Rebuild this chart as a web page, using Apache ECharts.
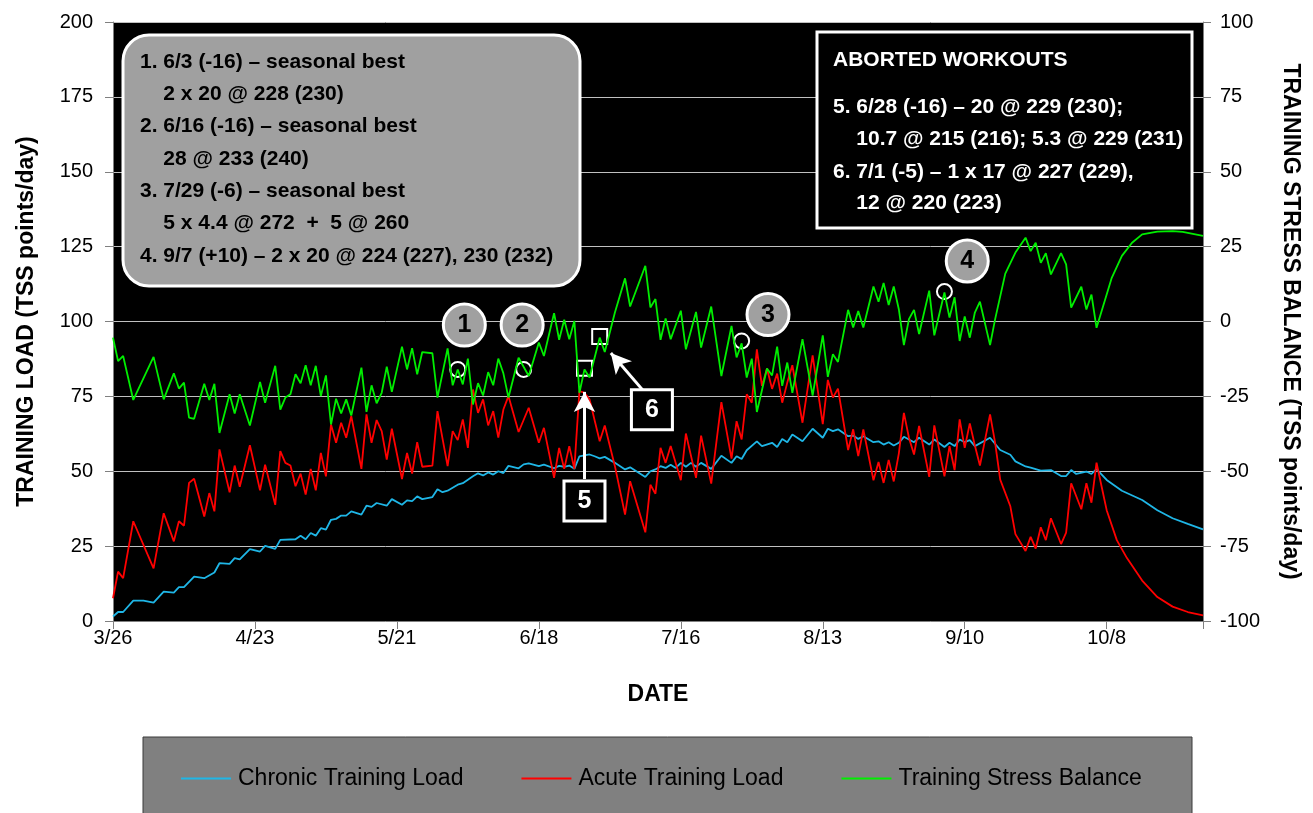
<!DOCTYPE html>
<html>
<head>
<meta charset="utf-8">
<script src="https://cdn.jsdelivr.net/npm/echarts@6/dist/echarts.min.js"></script>
<style>
html,body{margin:0;padding:0;background:#fff;}
#chart{width:1313px;height:813px;}
</style>
</head>
<body>
<div id="chart"></div>
<script>
// x = days since 3/26
const dateLabels = ['3/26','4/23','5/21','6/18','7/16','8/13','9/10','10/8'];
const seriesNames = ['Chronic Training Load','Acute Training Load','Training Stress Balance'];

const ctl = [[0,1.5],[1,3],[2,3],[4,6.8],[6,6.8],[8,6.1],[10,9.8],[12,9.5],[13,11.3],[14,11.3],[16,14.8],[18,14.3],[20,16.2],[21,19.3],[23,19.1],[24,21],[25,20.6],[27,24],[29,23.2],[30,25.1],[32,24.1],[33,27.1],[36,27.3],[37,28.5],[38,27.3],[39,29.4],[40,28.5],[41,31],[42,30.5],[43,33.8],[44,34.1],[45,35.2],[46,35.2],[47,36.6],[49,35.5],[50,38.5],[51,38.1],[52,39.4],[54,38.5],[55,40.7],[57,38.8],[58,40.3],[59,40],[60,41.6],[61,40.7],[63,41.4],[64,44],[65,43],[66,43.5],[67,44.5],[68,45.5],[69,46],[71,48.3],[72,49.3],[73,48.6],[74,49.6],[75,48.9],[76,50],[77,49.4],[78,51.8],[80,51],[81,52.3],[82,52.6],[84,51.7],[85,52.2],[87,51],[88,51.8],[89,51.5],[90,51.9],[91,50.8],[92,55],[94,55.6],[95,55],[96,54.3],[97,54.8],[99,52.8],[101,50.6],[102,51.3],[105,48.1],[106,50],[107,50.6],[108,51.7],[109,51.1],[110,52.2],[111,51.1],[112,52.8],[113,51.5],[114,52.8],[115,51.5],[116,52.8],[118,50.8],[120,55.2],[122,52.8],[123,55],[124,54.1],[125,57],[127,60],[128,58.4],[130,59.5],[131,58.1],[132,60.8],[133,59.7],[134,62.3],[136,60],[138,64.2],[140,61.2],[141,64.2],[142,63.4],[143,64],[145,61.7],[146,61.9],[147,60.8],[148,61.7],[150,59.7],[151,60],[152,58.9],[153,59.7],[154,58.6],[155,59.5],[156,61.5],[158,59.7],[159,61.2],[161,58.9],[162,60.6],[164,58.1],[165,59.5],[166,58.4],[167,60.6],[168,59.7],[169,60.4],[170,58.4],[173,61.2],[175,57.1],[177,55.5],[178,53.3],[180,51.6],[181,51.2],[183,50.2],[185,50.4],[187,48.4],[188,48.4],[189,50.4],[190,49.1],[192,49.9],[193,49.1],[194,50.7],[196,47.1],[199,43.5],[203,40.4],[206,37],[209,34.3],[212,32.4],[215,30.6]];

const atl = [[0,7.6],[1,16.5],[2,14.3],[4,33.3],[8,17.6],[10,36],[12,26.6],[13,33.3],[14,31.8],[15,46.1],[16,47.5],[18,34.9],[19,42.7],[20,36.6],[21,57.3],[23,43],[24,51.9],[25,44.8],[27,58.7],[29,43.6],[30,52.2],[32,38.8],[33,56.7],[34,52.8],[35,51.9],[36,45],[37,49.2],[38,42.2],[39,50.8],[40,43.6],[41,56.1],[42,48.3],[43,65.6],[44,59.5],[45,66.2],[46,61.2],[47,68.4],[49,50.8],[50,69],[51,59.5],[52,67.1],[53,63.4],[54,53.9],[55,64.2],[57,47.4],[58,56.1],[59,49.2],[60,59.7],[61,51.5],[63,51.9],[64,70.1],[66,51.7],[67,63.4],[68,60.4],[69,67.3],[70,57.8],[71,77.3],[72,69.5],[73,74],[74,65.3],[75,70.1],[76,61.2],[77,70.6],[78,75.1],[80,63.1],[82,71.2],[84,59.5],[85,64.5],[87,47.8],[88,57.8],[89,50.8],[90,58.4],[91,50.8],[92,76.8],[93,76.2],[94,74],[96,60],[97,65.3],[99,51.7],[101,35.5],[102,46.7],[105,29.6],[106,45.5],[107,42.5],[108,57.8],[109,52.8],[110,58.4],[112,47],[113,62.6],[115,47.8],[116,61.9],[118,45.9],[120,73.1],[122,54.2],[123,66.7],[124,60.6],[125,75.7],[126,72.9],[127,90.7],[128,78.5],[129,84.3],[130,77.5],[131,82.6],[132,72.9],[133,79.6],[134,85.4],[136,66.2],[138,88.7],[140,65.7],[141,80.5],[142,74.6],[143,77.6],[145,57.1],[146,64],[147,55.1],[148,64],[150,47],[151,53.1],[152,46.1],[153,53.8],[154,46.6],[155,55.9],[156,69.5],[157,61.2],[158,55.6],[159,65.1],[161,48.1],[162,65.3],[164,48.3],[165,58.4],[166,50.4],[167,67.3],[168,57.8],[169,66],[170,58.6],[171,51.9],[173,69],[174,59.5],[175,47.2],[177,38.3],[178,29],[180,23.4],[181,28.1],[182,24.2],[183,31.3],[184,27],[185,34.3],[187,25.7],[188,29.5],[189,46],[191,37.3],[192,46],[193,39.5],[194,52.9],[195,44.9],[196,37],[198,27],[200,21],[203,13.5],[206,8],[209,4.8],[212,3],[215,1.9]];

const tsb = [[0,-5.4],[1,-13.2],[2,-11.5],[4,-26.2],[8,-11.8],[10,-26],[12,-17.3],[13,-22.4],[14,-20.4],[15,-32.1],[16,-32.5],[18,-20.8],[19,-26.2],[20,-20.8],[21,-37.2],[23,-24.3],[24,-30.7],[25,-24.3],[27,-34.7],[29,-20.2],[30,-27.1],[32,-14.8],[33,-29.4],[34,-25.4],[35,-24.3],[36,-17.6],[37,-20.6],[38,-14.6],[39,-21.3],[40,-14.8],[41,-24.9],[42,-18],[43,-34.4],[44,-25.8],[45,-30.7],[46,-26],[47,-31.4],[49,-15.4],[50,-30.2],[51,-21.3],[52,-27.3],[53,-23.8],[54,-15.1],[55,-23.5],[57,-8.4],[58,-16],[59,-8.9],[60,-17.6],[61,-10.2],[63,-10.6],[64,-25.4],[66,-9],[67,-21.3],[68,-16],[69,-21],[70,-12.4],[71,-27.7],[72,-20.6],[73,-24.7],[74,-16.9],[75,-21.3],[76,-12.4],[77,-17.3],[78,-25.4],[80,-12.1],[82,-18.2],[84,-7],[85,-11.5],[87,2.8],[88,-6.1],[89,0.6],[90,-5.9],[91,0.2],[92,-23.8],[93,-16],[94,-18.7],[96,-5.4],[97,-10.2],[99,3],[101,14.4],[102,5],[105,18.6],[106,4.7],[107,7.5],[108,-6.1],[109,1],[110,-5.9],[112,3.6],[113,-9.3],[115,3.2],[116,-8.7],[118,5],[120,-18.2],[122,-1.5],[123,-12],[124,-7.3],[125,-18.7],[126,-12.4],[127,-30.2],[129,-15.7],[130,-18],[131,-8.4],[132,-21.5],[133,-13.7],[134,-23.8],[136,-5.9],[138,-24.7],[140,-4.6],[141,-18.5],[142,-10.9],[143,-13.5],[145,3.9],[146,-2],[147,3.5],[148,-2],[150,11.7],[151,6.6],[152,12.9],[153,5.5],[154,11.7],[155,4.1],[156,-7.9],[157,0.8],[158,3.9],[159,-4.2],[161,10.3],[162,-4.6],[164,9.7],[165,1.3],[166,8.1],[167,-6.5],[168,1.7],[169,-5.4],[170,3],[171,6.6],[173,-7.9],[174,0.8],[176,16],[178,23],[180,28],[181,23.5],[182,26.3],[183,19.6],[184,22.8],[185,15.7],[187,22.8],[188,19.1],[189,4.6],[191,11.6],[192,4],[193,9],[194,-2.1],[196,9],[197,14.6],[199,21.9],[201,26.3],[203,29.1],[206,30],[209,30.2],[211,29.9],[215,28.6]];

// seasonal bests: workout point on TSB line and numbered label position (day, TSB)
const bests = [
  {n:'1', day:68, tsb:-16, labelDay:69.3, labelTsb:-1.2},
  {n:'2', day:81, tsb:-16, labelDay:80.7, labelTsb:-1.2},
  {n:'3', day:124, tsb:-6.5, labelDay:129.2, labelTsb:2.3},
  {n:'4', day:164, tsb:10, labelDay:168.5, labelTsb:20.2}
];
// aborted workouts: point on TSB line, callout box, arrow start/end
const aborted = [
  {n:'5', day:93, tsb:-15.6, boxDay:93, boxTsb:-59.9, arrowFrom:[93,-52.6], arrowTo:[93,-23.5]},
  {n:'6', day:96, tsb:-5, boxDay:106.3, boxTsb:-29.5, arrowFrom:[104.8,-23.5], arrowTo:[98.2,-10.5]}
];

const noteLines = [
  '1. 6/3 (-16) \u2013 seasonal best',
  '    2 x 20 @ 228 (230)',
  '2. 6/16 (-16) \u2013 seasonal best',
  '    28 @ 233 (240)',
  '3. 7/29 (-6) \u2013 seasonal best',
  '    5 x 4.4 @ 272  +  5 @ 260',
  '4. 9/7 (+10) \u2013 2 x 20 @ 224 (227), 230 (232)'
];
const abortedLines = [
  'ABORTED WORKOUTS',
  '5. 6/28 (-16) \u2013 20 @ 229 (230);',
  '    10.7 @ 215 (216); 5.3 @ 229 (231)',
  '6. 7/1 (-5) \u2013 1 x 17 @ 227 (229),',
  '    12 @ 220 (223)'
];

const FONT = '"Liberation Sans", Arial, Helvetica, sans-serif';
const colors = ['#1fb6e6', '#ff0000', '#00ee00'];

const chart = echarts.init(document.getElementById('chart'), null, {renderer:'canvas'});

const markPointData = [];
bests.forEach(b => {
  markPointData.push({coord:[b.day, b.tsb], symbol:'circle', symbolSize:15,
    itemStyle:{color:'rgba(0,0,0,0)', borderColor:'#ffffff', borderWidth:2}, label:{show:false}});
  markPointData.push({coord:[b.labelDay, b.labelTsb], symbol:'circle', symbolSize:42,
    itemStyle:{color:'#a0a0a0', borderColor:'#ffffff', borderWidth:3},
    label:{show:true, formatter:b.n, color:'#000', fontSize:25, fontWeight:'bold', fontFamily:FONT}});
});
aborted.forEach(a => {
  markPointData.push({coord:[a.day, a.tsb], symbol:'rect', symbolSize:15,
    itemStyle:{color:'rgba(0,0,0,0)', borderColor:'#ffffff', borderWidth:2}, label:{show:false}});
  markPointData.push({coord:[a.boxDay, a.boxTsb], symbol:'rect', symbolSize:[41,40],
    itemStyle:{color:'#000', borderColor:'#ffffff', borderWidth:3},
    label:{show:true, formatter:a.n, color:'#fff', fontSize:25, fontWeight:'bold', fontFamily:FONT}});
});
const markLineData = aborted.map(a => [{coord:a.arrowFrom}, {coord:a.arrowTo}]);

const graphics = [];
graphics.push({type:'rect', z:100, shape:{x:123, y:35, width:457, height:251, r:26},
  style:{fill:'#a0a0a0', stroke:'#ffffff', lineWidth:3}});
noteLines.forEach((t, i) => {
  graphics.push({type:'text', z:101, style:{text:t, x:140, y:62 + i*32.3, fill:'#000',
    font:'bold 21px ' + FONT, verticalAlign:'middle'}});
});
graphics.push({type:'rect', z:100, shape:{x:817, y:32, width:375, height:196},
  style:{fill:'#000', stroke:'#ffffff', lineWidth:3}});
const abY = [60, 107, 139, 172, 203];
abortedLines.forEach((t, i) => {
  graphics.push({type:'text', z:101, style:{text:t, x:833, y:abY[i], fill:'#fff',
    font:'bold 21px ' + FONT, verticalAlign:'middle'}});
});
graphics.push({type:'rect', z:-1, shape:{x:143, y:737, width:1049, height:80},
  style:{fill:'#808080', stroke:'#3a3a3a', lineWidth:1}});

const option = {
  animation:false,
  backgroundColor:'#ffffff',
  textStyle:{fontFamily:FONT},
  grid:{left:113, right:110, top:22, bottom:192, show:true, backgroundColor:'#000', borderWidth:0},
  legend:{
    left:176, top:762, itemWidth:50, itemHeight:2, itemGap:58,
    textStyle:{fontSize:23, color:'#000', fontFamily:FONT, padding:[0,0,0,2]},
    data:seriesNames.map((n, i) => ({name:n, icon:'rect', itemStyle:{color:colors[i]}}))
  },
  graphic:graphics,
  xAxis:{
    type:'value', min:0, max:215, interval:28,
    name:'DATE', nameLocation:'middle', nameGap:62,
    nameTextStyle:{fontSize:23, fontWeight:'bold', color:'#000', fontFamily:FONT},
    axisLine:{show:true, onZero:false, lineStyle:{color:'#808080', width:1}},
    axisTick:{show:true, length:8, lineStyle:{color:'#808080'}},
    axisLabel:{fontSize:20, color:'#000', margin:7, fontFamily:FONT,
      formatter:v => (v % 28 === 0 ? dateLabels[v/28] : '')},
    splitLine:{show:false}
  },
  yAxis:[
    {
      type:'value', min:0, max:200, interval:25, position:'left',
      name:'TRAINING LOAD (TSS points/day)', nameLocation:'middle', nameGap:75,
      nameTextStyle:{fontSize:23, fontWeight:'bold', color:'#000', fontFamily:FONT},
      axisLine:{show:true, lineStyle:{color:'#808080'}},
      axisTick:{show:true, length:8, lineStyle:{color:'#808080'}},
      axisLabel:{fontSize:20, color:'#000', margin:20, fontFamily:FONT},
      splitLine:{show:true, lineStyle:{color:'#c0c0c0', width:1}}
    },
    {
      type:'value', min:-100, max:100, interval:25, position:'right',
      name:'TRAINING STRESS BALANCE (TSS points/day)', nameLocation:'middle', nameGap:76, nameRotate:-90,
      nameTextStyle:{fontSize:23, fontWeight:'bold', color:'#000', fontFamily:FONT},
      axisLine:{show:true, lineStyle:{color:'#808080'}},
      axisTick:{show:true, length:8, lineStyle:{color:'#808080'}},
      axisLabel:{fontSize:20, color:'#000', margin:17, fontFamily:FONT},
      splitLine:{show:false}
    }
  ],
  series:[
    {name:seriesNames[0], type:'line', data:ctl, yAxisIndex:0, symbol:'none',
      lineStyle:{color:colors[0], width:1.8}, itemStyle:{color:colors[0]}, z:3},
    {name:seriesNames[1], type:'line', data:atl, yAxisIndex:0, symbol:'none',
      lineStyle:{color:colors[1], width:1.8}, itemStyle:{color:colors[1]}, z:4},
    {name:seriesNames[2], type:'line', data:tsb, yAxisIndex:1, symbol:'none',
      lineStyle:{color:colors[2], width:1.8}, itemStyle:{color:colors[2]}, z:5,
      markPoint:{silent:true, data:markPointData},
      markLine:{silent:true, symbol:['none','arrow'], symbolSize:[16,20],
        lineStyle:{color:'#ffffff', width:3, type:'solid'}, label:{show:false},
        emphasis:{disabled:true}, data:markLineData}
    }
  ]
};
chart.setOption(option);
</script>
</body>
</html>
